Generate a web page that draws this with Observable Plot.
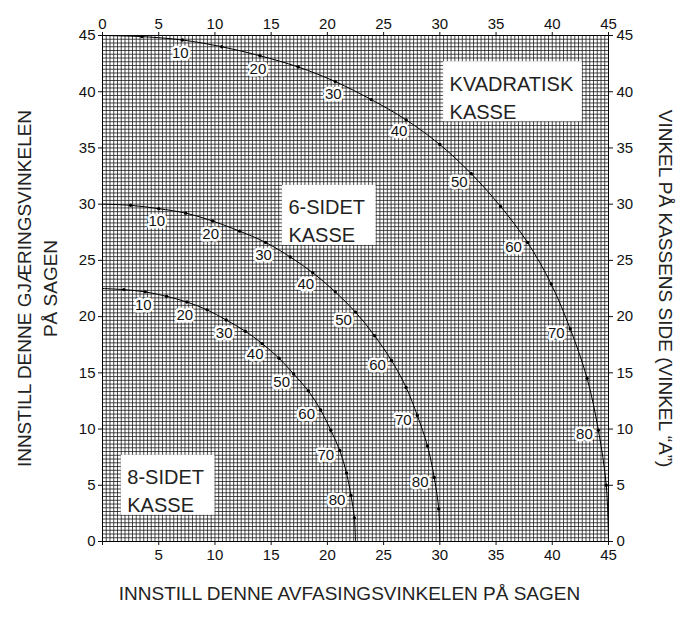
<!DOCTYPE html>
<html><head><meta charset="utf-8">
<script src="https://cdn.jsdelivr.net/npm/d3@7"></script>
<script src="https://cdn.jsdelivr.net/npm/@observablehq/plot@0.6"></script>
<style>
body{margin:0;background:#fff;}
#chart svg{display:block;}
</style></head><body><div id="chart"></div>
<script>
// Side angle of the box ("vinkel A"), one point every 5 degrees
const angleA = [0,5,10,15,20,25,30,35,40,45,50,55,60,65,70,75,80,85,90];

// Square box (KVADRATISK KASSE): bevel (x) and miter (y)
const squareBevel = [0,3.5,7.1,10.6,14.0,17.4,20.7,23.9,27.0,30.0,32.8,35.4,37.8,39.9,41.6,43.1,44.1,44.8,45];
const squareMiter = [45,44.9,44.6,44.0,43.2,42.2,40.9,39.3,37.5,35.3,32.7,29.8,26.6,22.9,18.9,14.5,9.9,5.0,0];

// 6-sided box
const hexBevel = [0,2.5,5.0,7.4,9.8,12.2,14.5,16.7,18.7,20.7,22.5,24.2,25.7,27.0,28.0,28.9,29.5,29.9,30];
const hexMiter = [30,29.9,29.6,29.2,28.5,27.6,26.6,25.3,23.9,22.2,20.4,18.3,16.1,13.7,11.2,8.5,5.7,2.9,0];

// 8-sided box
const octBevel = [0,1.9,3.8,5.7,7.5,9.3,11.0,12.7,14.2,15.7,17.0,18.3,19.4,20.3,21.1,21.7,22.1,22.4,22.5];
const octMiter = [22.5,22.4,22.2,21.8,21.3,20.6,19.7,18.7,17.6,16.3,14.9,13.4,11.7,9.9,8.1,6.1,4.1,2.1,0];

// Tick labels
const topTicks = [0,5,10,15,20,25,30,35,40,45];
const bottomTicks = [0,5,10,15,20,25,30,35,40,45];
const bottomTickLabels = ["","5","10","15","20","25","30","35","40","45"];
const leftTicks = [0,5,10,15,20,25,30,35,40,45];
const rightTicks = [0,5,10,15,20,25,30,35,40,45];

// Box names (panel labels) and the grid cells they cover (degrees)
const boxNames = ["KVADRATISK\nKASSE", "6-SIDET\nKASSE", "8-SIDET\nKASSE"];
const boxX1 = [30.33, 16.0, 1.67];
const boxX2 = [42.67, 24.33, 10.0];
const boxY1 = [37.33, 26.33, 2.33];
const boxY2 = [42.67, 31.67, 7.67];

const xTitle = "INNSTILL DENNE AVFASINGSVINKELEN PÅ SAGEN";
const yTitle = "INNSTILL DENNE GJÆRINGSVINKELEN\nPÅ SAGEN";
const y2Title = "VINKEL PÅ KASSENS SIDE (VINKEL “A”)";

// ---- build tables ----
const series = [
  {name: "square", bevel: squareBevel, miter: squareMiter},
  {name: "hex", bevel: hexBevel, miter: hexMiter},
  {name: "oct", bevel: octBevel, miter: octMiter}
];
const pts = [];
for (const s of series) angleA.forEach((a, i) => pts.push({box: s.name, a, x: s.bevel[i], y: s.miter[i]}));
const dots = pts.filter(d => d.a > 0 && d.a < 90);
const labs = pts.filter(d => d.a % 10 === 0 && d.a > 0 && d.a < 90);
const boxes = boxNames.map((t, i) => ({t, x1: boxX1[i], x2: boxX2[i], y1: boxY1[i], y2: boxY2[i]}));

const step = 1/3;
const grid = d3.range(0, 45 + 1e-9, step);

const font = "'Liberation Sans', Arial, Helvetica, sans-serif";
const labOpts = {x: "x", y: "y", text: d => String(d.a), fontSize: 15, fill: "#111", stroke: "white", strokeWidth: 5, paintOrder: "stroke"};

const chart = Plot.plot({
  width: 691, height: 625,
  marginLeft: 102, marginRight: 83, marginTop: 35, marginBottom: 84,
  style: {fontFamily: font, fontSize: "15px", color: "#111", background: "#fff", overflow: "visible"},
  x: {domain: [0, 45]},
  y: {domain: [0, 45]},
  marks: [
    Plot.ruleX(grid, {x: d => d, stroke: "#1a1a1a", strokeWidth: 0.8}),
    Plot.ruleY(grid, {y: d => d, stroke: "#1a1a1a", strokeWidth: 0.8}),
    Plot.rect(boxes, {x1: "x1", x2: "x2", y1: "y1", y2: "y2", fill: "white"}),
    Plot.text(boxes, {x: "x1", y: "y2", text: "t", textAnchor: "start", lineAnchor: "top", dx: 6, dy: 9, fontSize: 20, lineHeight: 1.4, fill: "#222"}),
    Plot.line(pts, {x: "x", y: "y", z: "box", curve: "catmull-rom", stroke: "black", strokeWidth: 1}),
    Plot.dot(dots, {x: "x", y: "y", r: 1.7, fill: "black"}),
    Plot.text(labs.filter(d => d.a <= 30), {...labOpts, dx: -2, dy: 13}),
    Plot.text(labs.filter(d => d.a === 40), {...labOpts, dx: -7, dy: 11}),
    Plot.text(labs.filter(d => d.a === 50), {...labOpts, dx: -12, dy: 8}),
    Plot.text(labs.filter(d => d.a >= 60), {...labOpts, dx: -14, dy: 4.5}),
    Plot.frame({stroke: "black", strokeWidth: 1}),
    Plot.axisX({anchor: "top", ticks: topTicks, tickSize: 4, tickPadding: 3, fontSize: 15, label: null}),
    Plot.axisX({anchor: "bottom", ticks: bottomTicks, tickFormat: d => bottomTickLabels[bottomTicks.indexOf(d)], tickSize: 4, tickPadding: 4, fontSize: 15, label: null}),
    Plot.axisY({anchor: "left", ticks: leftTicks, tickSize: 4, tickPadding: 3, fontSize: 15, label: null}),
    Plot.axisY({anchor: "right", ticks: rightTicks, tickSize: 4, tickPadding: 4, fontSize: 15, label: null}),
    Plot.text([xTitle], {frameAnchor: "bottom", text: d => d, textAnchor: "middle", dy: 58, dx: -6, fontSize: 19, fill: "#222"}),
    Plot.text([yTitle], {frameAnchor: "left", text: d => d, textAnchor: "middle", dx: -67, rotate: -90, fontSize: 19, lineHeight: 1.4, fill: "#222"}),
    Plot.text([y2Title], {frameAnchor: "right", text: d => d, textAnchor: "middle", dx: 57, rotate: 90, fontSize: 19, fill: "#222"})
  ]
});
document.getElementById("chart").append(chart);
</script>
</body></html>
